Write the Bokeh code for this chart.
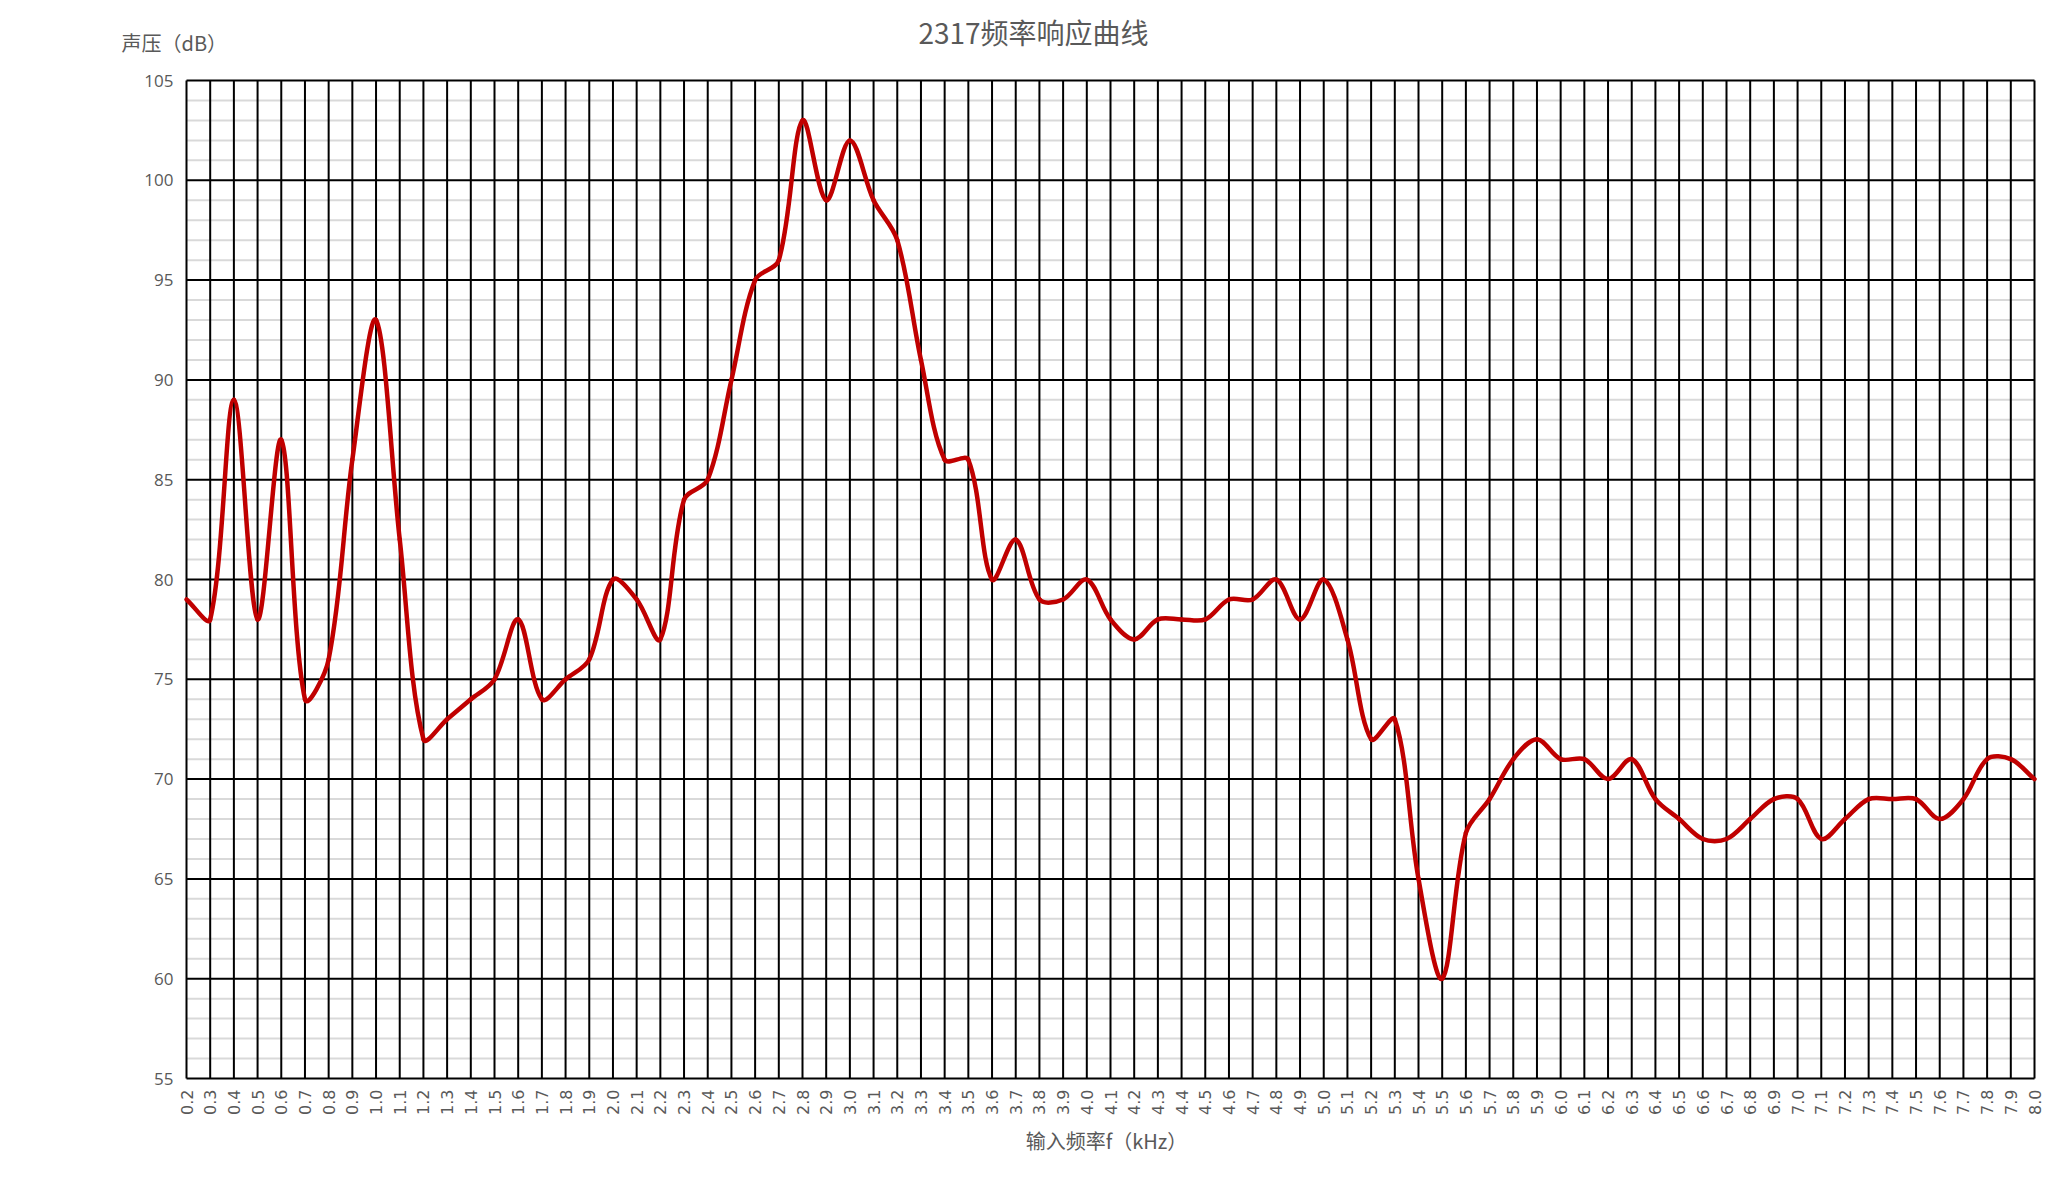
import numpy as np
from bokeh.plotting import figure
from bokeh.models import Range1d
from bokeh.core.properties import value
from bokeh.embed import file_html
from bokeh.resources import INLINE

# ---------------- data ----------------
title_text = "2317频率响应曲线"
y_title = "声压（dB）"
x_title = "输入频率f（kHz）"

freq_khz = [round(0.2 + 0.1 * i, 1) for i in range(79)]
spl_db = [
    79, 78, 89, 78, 87, 74, 76, 86, 93, 82,      # 0.2 - 1.1
    72, 73, 74, 75, 78, 74, 75, 76, 80, 79,      # 1.2 - 2.1
    77, 84, 85, 90, 95, 96, 103, 99, 102, 99,    # 2.2 - 3.1
    97, 91, 86, 86, 80, 82, 79, 79, 80, 78,      # 3.2 - 4.1
    77, 78, 78, 78, 79, 79, 80, 78, 80, 77,      # 4.2 - 5.1
    72, 73, 65, 60, 67.3, 69, 71, 72, 71, 71,    # 5.2 - 6.1
    70, 71, 69, 68, 67, 67, 68, 69, 69, 67,      # 6.2 - 7.1
    68, 69, 69, 69, 68, 69, 71, 71, 70,          # 7.2 - 8.0
]
x_tick_labels = ["%.1f" % v for v in freq_khz]
y_major_ticks = [55, 60, 65, 70, 75, 80, 85, 90, 95, 100, 105]
y_tick_labels = [str(v) for v in y_major_ticks]
y_minor_ticks = [v for v in range(55, 106) if v % 5 != 0]

# ---------------- layout (pixels) ----------------
W, H = 2059, 1174
L, R, T, B = 186, 2034, 80, 1078
X_MIN, X_MAX = freq_khz[0], freq_khz[-1]
Y_MIN, Y_MAX = y_major_ticks[0], y_major_ticks[-1]
SX = (R - L) / (X_MAX - X_MIN)
SY = (B - T) / (Y_MAX - Y_MIN)


def px_x(px):
    return X_MIN + (px - L) / SX


def px_y(py):
    return Y_MAX - (py - T) / SY


p = figure(width=W, height=H, output_backend="svg", toolbar_location=None, title=None,
           x_axis_type=None, y_axis_type=None,
           x_range=Range1d(px_x(0), px_x(W)), y_range=Range1d(px_y(H), px_y(0)),
           min_border=0, min_border_left=0, min_border_right=0,
           min_border_top=0, min_border_bottom=0)
p.outline_line_color = None
p.background_fill_color = "white"
p.border_fill_color = "white"

# ---------------- grid lines (from tick arrays) ----------------
p.segment(x0=[X_MIN] * len(y_minor_ticks), y0=y_minor_ticks,
          x1=[X_MAX] * len(y_minor_ticks), y1=y_minor_ticks,
          line_color="#D9D9D9", line_width=2)
p.segment(x0=[X_MIN] * len(y_major_ticks), y0=y_major_ticks,
          x1=[X_MAX] * len(y_major_ticks), y1=y_major_ticks,
          line_color="black", line_width=2)
p.segment(x0=freq_khz, y0=[Y_MIN] * len(freq_khz),
          x1=freq_khz, y1=[Y_MAX] * len(freq_khz),
          line_color="black", line_width=2)

# ---------------- smoothed curve (chord-weighted Catmull-Rom -> Bezier) ----------------
x = np.array(freq_khz, dtype=float)
y = np.array(spl_db, dtype=float)
P = np.column_stack([x * SX, y * SY])
Pp = np.vstack([P[0], P, P[-1]])
n = len(x) - 1
P0, P1, P2, P3 = Pp[0:n], Pp[1:n + 1], Pp[2:n + 2], Pp[3:n + 3]
d01 = np.linalg.norm(P1 - P0, axis=1)
d12 = np.linalg.norm(P2 - P1, axis=1)
d23 = np.linalg.norm(P3 - P2, axis=1)
w1 = (d12 / (d01 + d12))[:, None] / 3.0
w2 = (d12 / (d12 + d23))[:, None] / 3.0
C1 = P1 + (P2 - P0) * w1
C2 = P2 - (P3 - P1) * w2
p.bezier(x0=P1[:, 0] / SX, y0=P1[:, 1] / SY, x1=P2[:, 0] / SX, y1=P2[:, 1] / SY,
         cx0=C1[:, 0] / SX, cy0=C1[:, 1] / SY, cx1=C2[:, 0] / SX, cy1=C2[:, 1] / SY,
         line_color="#C00000", line_width=4.5, line_cap="round")

# ---------------- tick labels ----------------
p.text(x=[X_MIN] * len(y_major_ticks), y=y_major_ticks, text=y_tick_labels,
       x_offset=-13, text_align="right", text_baseline="middle",
       text_font=value("Open Sans"), text_font_size="17px", text_color="#595959")
p.text(x=freq_khz, y=[Y_MIN] * len(freq_khz), text=x_tick_labels,
       y_offset=11, angle=np.pi / 2, text_align="right", text_baseline="middle",
       text_font=value("DejaVu Sans"), text_font_size="16px", text_color="#595959")

# ---------------- titles ----------------
p.text(x=[px_x(1033)], y=[px_y(31)], text=[title_text], text_align="center",
       text_baseline="middle", text_font=value("Noto Sans CJK SC"),
       text_font_size="28px", text_color="#595959")
p.text(x=[px_x(121)], y=[px_y(42)], text=[y_title], text_align="left",
       text_baseline="middle", text_font=value("Noto Sans CJK SC"),
       text_font_size="20px", text_color="#595959")
p.text(x=[px_x(1106)], y=[px_y(1140)], text=[x_title], text_align="center",
       text_baseline="middle", text_font=value("Noto Sans CJK SC"),
       text_font_size="20px", text_color="#595959")

open("out.html", "w").write(file_html(p, INLINE))
